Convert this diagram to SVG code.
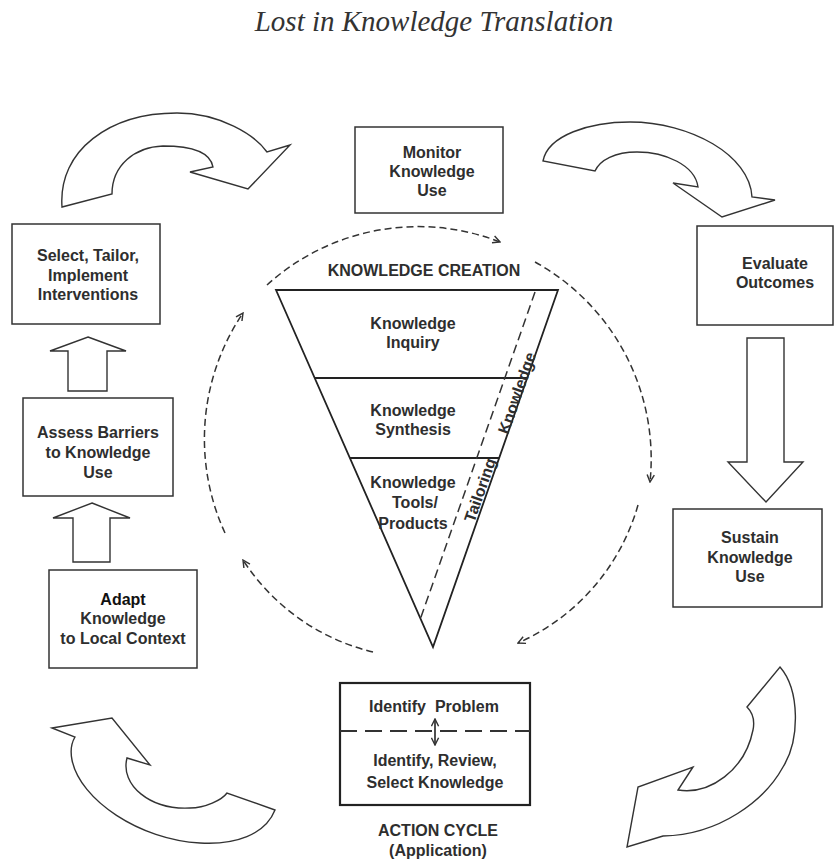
<svg xmlns="http://www.w3.org/2000/svg" width="835" height="861" viewBox="0 0 835 861">
<style>
.box{fill:#fff;stroke:#333;stroke-width:1.5}
.lbl{font-family:"Liberation Sans",Arial,sans-serif;font-weight:bold;font-size:16px;fill:#2e2e2e;text-anchor:middle}
.blk{fill:#fff;stroke:#333;stroke-width:1.4;stroke-linejoin:miter}
.arc{fill:none;stroke:#333;stroke-width:1.5;stroke-dasharray:7 4}
.tri{fill:none;stroke:#222;stroke-width:1.8}
</style>
<defs>
<marker id="ah" viewBox="0 0 10 10" refX="9" refY="5" markerWidth="9" markerHeight="9" markerUnits="userSpaceOnUse" orient="auto-start-reverse">
<path d="M1,1 L9,5 L1,9" fill="none" stroke="#333" stroke-width="1.6"/>
</marker>
</defs>
<rect width="835" height="861" fill="#fff"/>
<text x="434" y="31" font-family="'Liberation Serif','Times New Roman',serif" font-style="italic" font-size="29" fill="#333" text-anchor="middle">Lost in Knowledge Translation</text>

<g id="connectors">
<path class="blk" d="M62,207 C58,150 110,113 177,113 C220,113 255,135 267,152 L290,145 L248,189 L190,172 L213,167 C210,150 185,146 163,146 C135,147 112,165 112,194 Z"/>
<path class="blk" d="M543,161 C548,135 590,122 630,122 C690,122 750,155 752,197 L775,200 L722,217 L673,183 L698,187 C695,165 665,152 637,152 C615,152 600,160 595,171 Z"/>
<path class="blk" d="M780,667 C800,690 800,740 783,767 C765,800 720,835 663,836 L627,847 L638,787 L693,767 L678,790 C710,795 745,770 753,730 C755,720 752,712 747,707 Z"/>
<path class="blk" d="M52,728 L112,718 L150,765 L127,758 C120,785 150,810 190,808 C205,808 222,800 227,793 L275,810 C265,835 235,845 200,843 C140,840 80,800 72,760 C70,750 72,742 75,737 Z"/>
<path class="blk" d="M88,337 L126,351 L107,351 L107,391 L68,391 L68,351 L50,351 Z"/>
<path class="blk" d="M92,503 L130,518 L110,518 L110,562 L73,562 L73,518 L53,518 Z"/>
<path class="blk" d="M747,338 L784,338 L784,462 L803,462 L766,502 L728,462 L747,462 Z"/>
<path class="arc" d="M267,285 A225,225 0 0 1 500,242" marker-end="url(#ah)"/>
<path class="arc" d="M535,262 A225,225 0 0 1 650,482" marker-end="url(#ah)"/>
<path class="arc" d="M638,505 A215,215 0 0 1 518,643" marker-end="url(#ah)"/>
<path class="arc" d="M373,652 A215,215 0 0 1 243,560" marker-end="url(#ah)"/>
<path class="arc" d="M225,533 A225,225 0 0 1 243,313" marker-end="url(#ah)"/>
</g>

<g id="monitor">
<rect class="box" x="355" y="127" width="148" height="86"/>
<text class="lbl" x="432" y="157.5">Monitor</text>
<text class="lbl" x="432" y="176.5">Knowledge</text>
<text class="lbl" x="432" y="195.5">Use</text>
</g>

<g id="select">
<rect class="box" x="12" y="224" width="148" height="100"/>
<text class="lbl" x="88" y="261">Select, Tailor,</text>
<text class="lbl" x="88" y="280.5">Implement</text>
<text class="lbl" x="88" y="300">Interventions</text>
</g>

<g id="assess">
<rect class="box" x="23" y="398" width="150" height="98"/>
<text class="lbl" x="98" y="438">Assess Barriers</text>
<text class="lbl" x="98" y="458">to Knowledge</text>
<text class="lbl" x="98" y="478">Use</text>
</g>

<g id="adapt">
<rect class="box" x="49" y="570" width="148" height="98"/>
<text class="lbl" x="123" y="605" style="fill:#111">Adapt</text>
<text class="lbl" x="123" y="624">Knowledge</text>
<text class="lbl" x="123" y="644">to Local Context</text>
</g>

<g id="evaluate">
<rect class="box" x="697" y="226" width="136" height="99"/>
<text class="lbl" x="775" y="269">Evaluate</text>
<text class="lbl" x="775" y="288">Outcomes</text>
</g>

<g id="sustain">
<rect class="box" x="673" y="509" width="149" height="98"/>
<text class="lbl" x="750" y="543">Sustain</text>
<text class="lbl" x="750" y="562.5">Knowledge</text>
<text class="lbl" x="750" y="582">Use</text>
</g>

<g id="knowledge-creation">
<text class="lbl" x="424" y="276">KNOWLEDGE CREATION</text>
<path class="tri" d="M276,290 L558,290 L433,647 Z"/>
<line class="tri" x1="315" y1="378" x2="527" y2="378"/>
<line class="tri" x1="350" y1="458" x2="499" y2="458"/>
<line x1="535" y1="292" x2="420" y2="620" stroke="#333" stroke-width="1.5" stroke-dasharray="9 5"/>
<text class="lbl" x="413" y="329">Knowledge</text>
<text class="lbl" x="413" y="348">Inquiry</text>
<text class="lbl" x="413" y="416">Knowledge</text>
<text class="lbl" x="413" y="435">Synthesis</text>
<text class="lbl" x="413" y="488">Knowledge</text>
<text class="lbl" x="415" y="508">Tools/</text>
<text class="lbl" x="413" y="529">Products</text>
<text class="lbl" transform="translate(517,393) rotate(-70.7)" x="0" y="5.5">Knowledge</text>
<text class="lbl" transform="translate(480,490) rotate(-70.7)" x="0" y="5.5">Tailoring</text>
</g>

<g id="action-cycle">
<rect x="340" y="683" width="190" height="122" fill="#fff" stroke="#222" stroke-width="2.2"/>
<line x1="340" y1="731" x2="530" y2="731" stroke="#333" stroke-width="2" stroke-dasharray="17 8"/>
<text class="lbl" x="434" y="712" style="white-space:pre">Identify  Problem</text>
<line x1="435" y1="719" x2="435" y2="745" stroke="#222" stroke-width="1.6" marker-start="url(#ah)" marker-end="url(#ah)"/>
<text class="lbl" x="435" y="766">Identify, Review,</text>
<text class="lbl" x="435" y="788">Select Knowledge</text>
<text class="lbl" x="438" y="836">ACTION CYCLE</text>
<text class="lbl" x="438" y="856">(Application)</text>
</g>
</svg>
